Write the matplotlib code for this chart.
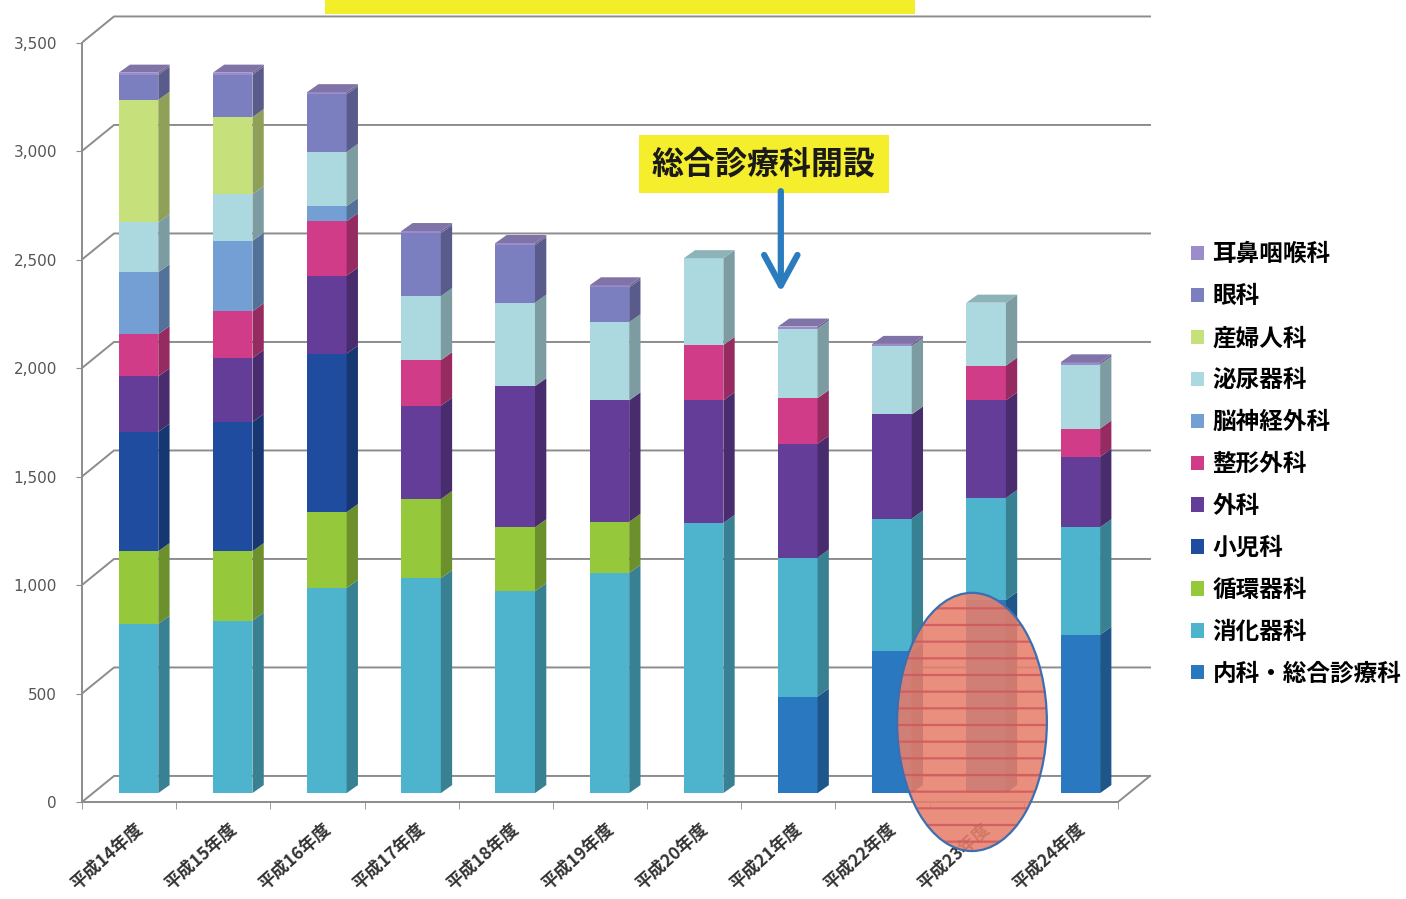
import numpy as np
import matplotlib
matplotlib.use('Agg')
import matplotlib.pyplot as plt
from matplotlib.patches import Polygon, Rectangle, Ellipse, Patch
from matplotlib.colors import to_rgb
from matplotlib.transforms import ScaledTranslation

plt.rcParams['font.family'] = ['Noto Sans CJK JP', 'DejaVu Sans']
plt.rcParams['hatch.linewidth'] = 1.6

# data (bottom of stack first)
years = ['平成14年度', '平成15年度', '平成16年度', '平成17年度', '平成18年度', '平成19年度',
         '平成20年度', '平成21年度', '平成22年度', '平成23年度', '平成24年度']
naika = [0, 0, 0, 0, 0, 0, 0, 445, 655, 890, 730]
shoukaki = [780, 795, 945, 990, 930, 1015, 1245, 640, 610, 470, 495]
junkanki = [335, 320, 350, 365, 295, 235, 0, 0, 0, 0, 0]
shouni = [550, 595, 730, 0, 0, 0, 0, 0, 0, 0, 0]
geka = [255, 295, 360, 430, 650, 560, 565, 525, 480, 450, 325]
seikei = [195, 215, 250, 210, 0, 0, 255, 210, 0, 160, 130]
noushinkei = [285, 325, 70, 0, 0, 0, 0, 0, 0, 0, 0]
hinyouki = [230, 215, 250, 295, 385, 360, 400, 320, 315, 290, 295]
sanfujin = [565, 355, 0, 0, 0, 0, 0, 0, 0, 0, 0]
ganka = [115, 195, 265, 290, 265, 160, 0, 0, 0, 0, 0]
jibika = [10, 10, 10, 10, 10, 10, 0, 10, 10, 0, 10]

names = ['内科・総合診療科', '消化器科', '循環器科', '小児科', '外科', '整形外科',
         '脳神経外科', '泌尿器科', '産婦人科', '眼科', '耳鼻咽喉科']
series = [naika, shoukaki, junkanki, shouni, geka, seikei,
          noushinkei, hinyouki, sanfujin, ganka, jibika]
colors = ['#2a78c0', '#4eb3cc', '#96c83c', '#1f4c9e', '#643d98', '#d03c88',
          '#739fd4', '#acd9e0', '#c6e07c', '#7b7fc0', '#9c8ccc']

yticks = [0, 500, 1000, 1500, 2000, 2500, 3000, 3500]


def shade(c, f):
    return tuple(v * f for v in to_rgb(c))


fig = plt.figure(figsize=(14.06, 8.99), dpi=100)
ax = fig.add_axes([82 / 1406, 97 / 899, 11.5 * 94.18 / 1406, 3695 * 0.217 / 899])
ax.set_xlim(-0.5, 11.0)
ax.set_ylim(0, 3695)

# 3d look
wall_dx, wall_dy = 0.34, 120
bar_dx, bar_dy = 0.1, 41
side_dx, side_dy = 0.12, 37
bar_w = 0.42
n = len(years)
grid_c = '#8c8c8c'

for v in yticks:
    ax.plot([-0.5, -0.5 + wall_dx, n - 0.5 + wall_dx], [v, v + wall_dy, v + wall_dy],
            color=grid_c, lw=1.4, zorder=0)
ax.plot([n - 0.5, n - 0.5 + wall_dx], [0, wall_dy], color=grid_c, lw=1.4, zorder=0)

# stacked bars
bottoms = np.zeros(n)
totals = np.sum(np.array(series), axis=0)
for vals, col in zip(series, colors):
    vals = np.array(vals, dtype=float)
    for i in range(n):
        if vals[i] <= 0:
            continue
        x0 = i - bar_w / 2 + bar_dx
        x1 = x0 + bar_w
        b = bottoms[i] + bar_dy
        t = b + vals[i]
        ax.add_patch(Rectangle((x0, b), bar_w, vals[i], facecolor=col, edgecolor='none', zorder=2))
        ax.add_patch(Polygon([(x1, b), (x1 + side_dx, b + side_dy), (x1 + side_dx, t + side_dy), (x1, t)],
                             facecolor=shade(col, 0.72), edgecolor='none', zorder=2))
        if abs(bottoms[i] + vals[i] - totals[i]) < 1e-6:
            ax.add_patch(Polygon([(x0, t), (x0 + side_dx, t + side_dy), (x1 + side_dx, t + side_dy), (x1, t)],
                                 facecolor=shade(col, 0.82), edgecolor='none', zorder=2))
    bottoms += vals

# axes styling
for s in ['top', 'right']:
    ax.spines[s].set_visible(False)
ax.spines['left'].set_bounds(0, 3500)
ax.spines['bottom'].set_bounds(-0.5, n - 0.5)
ax.spines['left'].set_color(grid_c)
ax.spines['bottom'].set_color(grid_c)
ax.spines['left'].set_linewidth(1.4)
ax.spines['bottom'].set_linewidth(1.4)
ax.patch.set_alpha(0)

ax.set_yticks(yticks)
ax.set_yticklabels(['{:,}'.format(v) for v in yticks], fontsize=11, color='#555555',
                   family=['DejaVu Sans'])
ax.tick_params(axis='y', length=4, color=grid_c, pad=14)

ax.set_xticks(range(n))
ax.set_xticklabels(years, rotation=42, ha='right', rotation_mode='anchor', fontsize=12.5,
                   color='#333333', fontweight='bold')
ax.set_xticks(np.arange(-0.5, n, 1), minor=True)
ax.tick_params(axis='x', which='major', length=0, pad=13)
ax.tick_params(axis='x', which='minor', length=5, color=grid_c)
for lab in ax.get_xticklabels():
    lab.set_transform(lab.get_transform() + ScaledTranslation(0.05, 0, fig.dpi_scale_trans))

# annotation
ax.text(6.74, 2940, '総合診療科開設', fontsize=23, ha='center', va='center', color='#1a1a1a',
        fontweight='bold',
        bbox=dict(boxstyle='square,pad=0.4', facecolor='#f4ee2c', edgecolor='none'), zorder=6)
ax.annotate('', xy=(6.92, 2350), xytext=(6.92, 2815),
            arrowprops=dict(arrowstyle='->,head_length=1.1,head_width=0.6', color='#2b7bbf',
                            lw=4.5, mutation_scale=20, shrinkA=0, shrinkB=0), zorder=6)

# highlight ellipse
ax.add_patch(Ellipse((8.95, 369), 1.59, 1190, facecolor='#e8806c', edgecolor='#cf5a5e',
                     hatch='-', lw=0, alpha=0.88, zorder=7, clip_on=False))
ax.add_patch(Ellipse((8.95, 369), 1.59, 1190, facecolor='none', edgecolor='#3d6fb0',
                     lw=1.6, zorder=8, clip_on=False))

# title band cut off at top
fig.patches.append(Rectangle((325 / 1406, 1 - 14 / 899), 590 / 1406, 14 / 899,
                             transform=fig.transFigure, facecolor='#f2ee2a', edgecolor='none'))

# legend
handles = [Patch(facecolor=c, edgecolor='none') for c in colors[::-1]]
fig.legend(handles, names[::-1], loc='upper left', bbox_to_anchor=(1170 / 1406, 1 - 221 / 899),
           frameon=False, handlelength=0.55, handleheight=0.55, handletextpad=0.35,
           labelspacing=0.76, prop={'size': 17, 'weight': 'bold'})

fig.savefig('out.png', dpi=100)
